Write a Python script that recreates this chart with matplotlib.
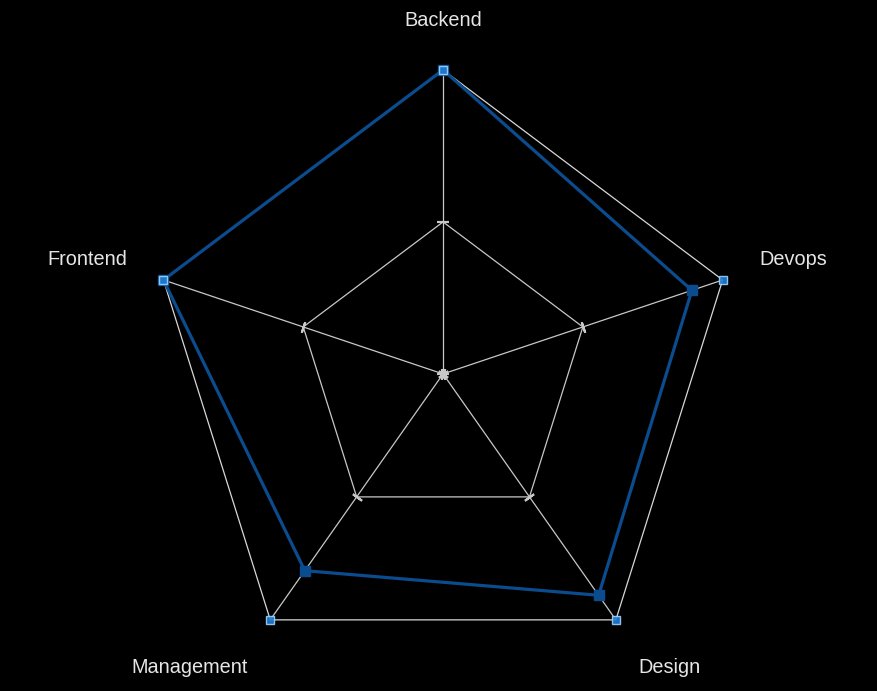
import numpy as np
import matplotlib.pyplot as plt

# Skill radar data
categories = ["Backend", "Devops", "Design", "Management", "Frontend"]
scores = [1.0, 0.89, 0.90, 0.80, 1.0]
grid_levels = [0.5, 1.0]
max_score = 1.0

# Angles: Backend on top, going clockwise
angles = np.deg2rad(90 - 72 * np.arange(len(categories)))

def to_xy(values):
    values = np.asarray(values, dtype=float)
    return values * np.cos(angles), values * np.sin(angles)

fig = plt.figure(figsize=(8.77, 6.91), dpi=100, facecolor="black")
ax = fig.add_axes([0, 0, 1, 1])
ax.set_facecolor("black")
ax.set_xlim(-1.507, 1.476)
ax.set_ylim(-1.043, 1.230)
ax.axis("off")

grid_color = "#c8c8c8"

# spokes
for a in angles:
    ax.plot([0, np.cos(a)], [0, np.sin(a)], color=grid_color, lw=0.9, zorder=1)

# inner grid pentagon(s)
for lev in grid_levels[:-1]:
    gx, gy = to_xy([lev] * len(categories))
    ax.plot(np.append(gx, gx[0]), np.append(gy, gy[0]), color=grid_color, lw=0.9, zorder=1)

# tick marks on spokes (0 and 0.5)
for a in angles:
    for lev in [0.0, 0.5]:
        ax.plot(lev * np.cos(a), lev * np.sin(a), marker=(2, 2, np.rad2deg(a)),
                markersize=8, markeredgewidth=1.5, color=grid_color, zorder=2)

# outer ring (max values)
mx, my = to_xy([max_score] * len(categories))
ax.plot(np.append(mx, mx[0]), np.append(my, my[0]), color="#d8d8d8", lw=0.9, zorder=2)

# data series
dx, dy = to_xy(scores)
ax.plot(np.append(dx, dx[0]), np.append(dy, dy[0]), color="#0b4c8f", lw=2.3, zorder=3)
ax.plot(dx, dy, linestyle="none", marker="s", markersize=7.5,
        markerfacecolor="#0b4c8f", markeredgecolor="#0b4c8f", zorder=4)

# outer vertex markers
ax.plot(mx, my, linestyle="none", marker="s", markersize=6,
        markerfacecolor="#1f7bd6", markeredgecolor="#9dd3f7", markeredgewidth=1.0,
        alpha=0.9, zorder=5)

# category labels
for name, a in zip(categories, angles):
    c, s = np.cos(a), np.sin(a)
    if abs(c) < 0.1:
        ha, x, y = "center", 0, 1.161
    else:
        ha = "left" if c > 0 else "right"
        x = 1.13 * c
        y = (1.245 if s > 0 else 1.183) * s - 0.007
    ax.text(x, y, name, ha=ha, va="center", color="#e6e6e6",
            fontsize=14.3, family="Liberation Sans")

fig.savefig("out.png", dpi=100, facecolor="black")
